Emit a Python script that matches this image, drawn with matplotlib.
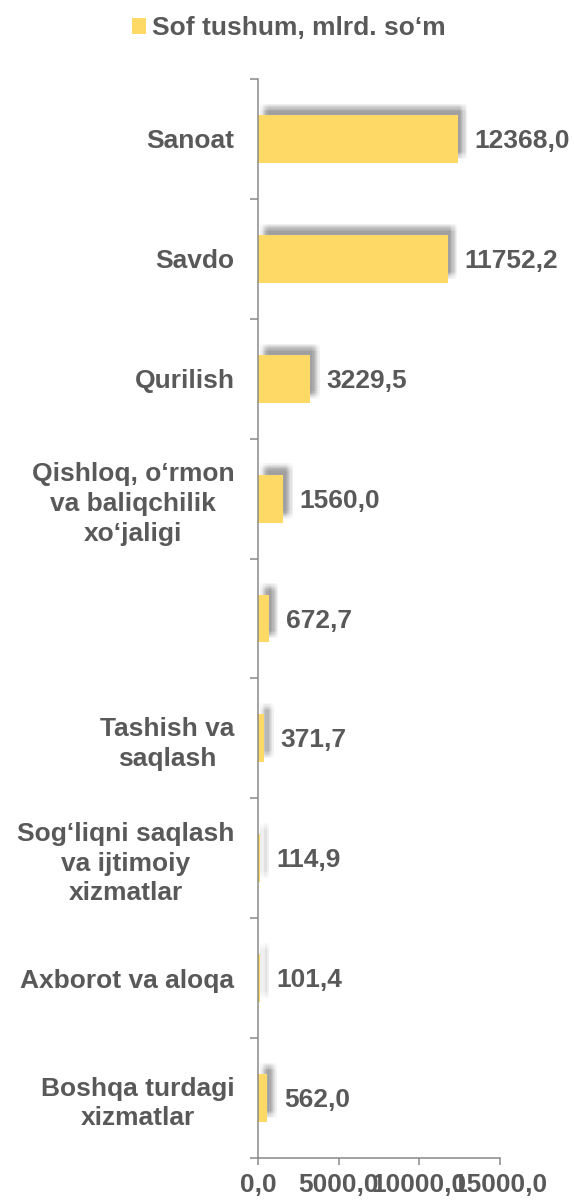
import matplotlib as mpl

mpl.use("Agg")

import matplotlib.pyplot as plt
from matplotlib import patheffects as pe
from matplotlib.patches import Patch
from matplotlib.ticker import FixedLocator

categories = [
    "Sanoat",
    "Savdo",
    "Qurilish",
    "Qishloq, o\u2018rmon\nva baliqchilik\nxo\u2018jaligi",
    "",
    "Tashish va\nsaqlash",
    "Sog\u2018liqni saqlash\nva ijtimoiy\nxizmatlar",
    "Axborot va aloqa",
    "Boshqa turdagi\nxizmatlar",
]
values = [12368.0, 11752.2, 3229.5, 1560.0, 672.7, 371.7, 114.9, 101.4, 562.0]
x_ticks = [0, 5000, 10000, 15000]
x_tick_labels = ["0,0", "5000,0", "10000,0", "15000,0"]
series_name = "Sof tushum, mlrd. so\u2018m"

BAR_COLOR = "#FFD966"
TEXT_COLOR = "#595959"
AXIS_COLOR = "#898989"
FONT_SIZE = 19

plt.rcParams["font.family"] = ["Liberation Sans", "DejaVu Sans"]
plt.rcParams["font.weight"] = "bold"


def fmt(value: float) -> str:
    return f"{value:.1f}".replace(".", ",")


def soft_shadow(dx: float = 4.3, dy: float = 5.5, spread: float = 2.6, steps: int = 7):
    # stack of faint offset copies -> blurred drop shadow
    effects = []
    half = (steps - 1) / 2
    for i in range(steps):
        for j in range(steps):
            ox = dx + spread * (i - half) / half
            oy = dy + spread * (j - half) / half
            effects.append(
                pe.SimplePatchShadow(offset=(ox, oy), shadow_rgbFace="#505050", alpha=0.011)
            )
    effects.append(pe.Normal())
    return effects


fig = plt.figure(figsize=(5.74, 12.03), dpi=100)
ax = fig.add_axes([0.4495, 0.0374, 0.4215, 0.8969])

positions = list(range(len(categories)))
bars = ax.barh(positions, values, height=0.4, color=BAR_COLOR, linewidth=0, zorder=2)
shadow = soft_shadow()
for bar in bars:
    bar.set_path_effects(shadow)

for pos, value in zip(positions, values):
    ax.annotate(
        fmt(value),
        xy=(value, pos),
        xytext=(12, -1.5),
        textcoords="offset points",
        ha="left",
        va="center",
        fontsize=FONT_SIZE,
        fontweight="bold",
        color=TEXT_COLOR,
    )

ax.set_xlim(0, 15000)
ax.set_ylim(len(categories) - 0.5, -0.5)

ax.xaxis.set_major_locator(FixedLocator(x_ticks))
ax.set_xticklabels(x_tick_labels)
ax.tick_params(axis="x", which="major", direction="out", length=5, width=1.1,
               color=AXIS_COLOR, labelcolor=TEXT_COLOR, labelsize=FONT_SIZE, pad=6)

# category boundaries carry the tick marks, names sit in between
ax.yaxis.set_major_locator(FixedLocator([p - 0.5 for p in range(len(categories) + 1)]))
ax.yaxis.set_minor_locator(FixedLocator(positions))
ax.set_yticklabels([], minor=False)
ax.set_yticklabels(categories, minor=True, multialignment="center", linespacing=1.3)
ax.tick_params(axis="y", which="major", direction="out", length=6, width=1.1, color=AXIS_COLOR)
ax.tick_params(axis="y", which="minor", length=0, labelcolor=TEXT_COLOR,
               labelsize=FONT_SIZE, pad=17)
for label in ax.get_yticklabels(minor=True) + ax.get_xticklabels():
    label.set_fontweight("bold")

for side in ("top", "right"):
    ax.spines[side].set_visible(False)
for side in ("left", "bottom"):
    ax.spines[side].set_color(AXIS_COLOR)
    ax.spines[side].set_linewidth(1.1)

handle = Patch(facecolor=BAR_COLOR, edgecolor="none")
fig.legend(
    [handle],
    [series_name],
    loc="center",
    bbox_to_anchor=(0.5026, 0.9765),
    frameon=False,
    handlelength=0.53,
    handleheight=0.53,
    handletextpad=0.23,
    prop={"size": FONT_SIZE, "weight": "bold"},
    labelcolor=TEXT_COLOR,
)

fig.savefig("out.png", dpi=100)
plt.close(fig)
